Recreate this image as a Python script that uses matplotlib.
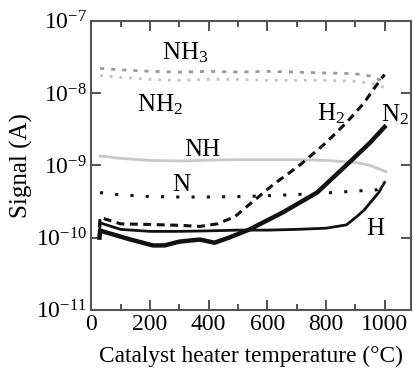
import matplotlib
matplotlib.use("Agg")
import matplotlib.pyplot as plt
from matplotlib.ticker import LogLocator, LogFormatterMathtext, MultipleLocator, NullLocator

plt.rcParams['font.family'] = ['Liberation Serif', 'DejaVu Serif']
plt.rcParams['mathtext.fontset'] = 'custom'
plt.rcParams['mathtext.rm'] = 'Liberation Serif'
plt.rcParams['mathtext.it'] = 'Liberation Serif:italic'

# temperature (deg C) and signal (A)
temp_nh3 = [30, 100, 200, 300, 400, 500, 600, 700, 800, 900, 960, 1000]
sig_nh3 = [2.2e-8, 2.1e-8, 2.0e-8, 1.95e-8, 2.0e-8, 1.95e-8, 2.0e-8, 1.95e-8, 1.9e-8, 1.85e-8, 1.7e-8, 1.4e-8]

temp_nh2 = [30, 100, 200, 300, 400, 500, 600, 700, 800, 900, 960, 1000]
sig_nh2 = [1.75e-8, 1.65e-8, 1.55e-8, 1.5e-8, 1.55e-8, 1.55e-8, 1.5e-8, 1.5e-8, 1.5e-8, 1.45e-8, 1.35e-8, 1.2e-8]

temp_nh = [30, 100, 200, 300, 400, 500, 600, 700, 800, 900, 950, 1005]
sig_nh = [1.35e-9, 1.25e-9, 1.17e-9, 1.15e-9, 1.18e-9, 1.2e-9, 1.2e-9, 1.2e-9, 1.17e-9, 1.1e-9, 1.0e-9, 8.2e-10]

temp_n = [30, 100, 200, 300, 400, 500, 600, 700, 800, 900, 975, 1000]
sig_n = [4.2e-10, 3.9e-10, 3.7e-10, 3.65e-10, 3.65e-10, 3.7e-10, 3.8e-10, 3.95e-10, 4.15e-10, 4.4e-10, 4.6e-10, 5.3e-10]

temp_h2 = [28, 30, 100, 200, 300, 370, 430, 490, 540, 620, 710, 800, 870, 930, 960, 1000]
sig_h2 = [1.4e-10, 1.9e-10, 1.55e-10, 1.52e-10, 1.48e-10, 1.43e-10, 1.55e-10, 1.95e-10, 2.9e-10,
          5.4e-10, 1.0e-9, 2.05e-9, 3.9e-9, 7.3e-9, 1.1e-8, 1.8e-8]

temp_n2 = [28, 30, 130, 210, 250, 300, 370, 420, 470, 540, 650, 770, 880, 950, 1000]
sig_n2 = [1.0e-10, 1.25e-10, 9.5e-11, 7.8e-11, 7.8e-11, 8.8e-11, 9.4e-11, 8.5e-11, 1.0e-10, 1.3e-10,
          2.2e-10, 4.2e-10, 1.1e-9, 2.05e-9, 3.4e-9]

temp_h = [28, 30, 100, 200, 300, 400, 500, 600, 700, 800, 870, 905, 930, 950, 980, 1000]
sig_h = [1.1e-10, 1.6e-10, 1.3e-10, 1.22e-10, 1.22e-10, 1.24e-10, 1.27e-10, 1.27e-10, 1.3e-10, 1.35e-10,
         1.5e-10, 1.95e-10, 2.4e-10, 3.0e-10, 4.2e-10, 5.8e-10]

# label text and where it sits (temp, signal)
labels = ['NH$_3$', 'NH$_2$', 'NH', 'N', 'H$_2$', 'N$_2$', 'H']
label_x = [322, 234, 378, 307, 818, 1036, 968]
label_y = [3.6e-8, 6.9e-9, 1.62e-9, 5.3e-10, 5.15e-9, 5.0e-9, 1.3e-10]

fig = plt.figure(figsize=(4.13, 3.72), dpi=100)
ax = fig.add_axes([0.221, 0.167, 0.774, 0.777])

ax.plot(temp_nh3, sig_nh3, color='#9a9a9a', lw=2.0, ls=(0, (1.5, 2.5)))
ax.plot(temp_nh2, sig_nh2, color='#c2c2c2', lw=2.0, ls=(0, (1, 2.5)))
ax.plot(temp_nh, sig_nh, color='#c8c8c8', lw=2.0)
ax.plot(temp_n, sig_n, color='#111111', lw=2.2, ls=(0, (1, 4)))
ax.plot(temp_h2, sig_h2, color='#111111', lw=2.2, ls=(0, (2.6, 1.8)))
ax.plot(temp_h, sig_h, color='#111111', lw=2.0)
ax.plot(temp_n2, sig_n2, color='#111111', lw=3.2)

for txt, lx, ly in zip(labels, label_x, label_y):
    ax.text(lx, ly, txt, fontsize=18, ha='center', va='center', clip_on=False)

ax.set_yscale('log')
ax.set_xlim(0, 1090)
ax.set_ylim(1e-11, 1e-7)
ax.xaxis.set_major_locator(MultipleLocator(200))
ax.xaxis.set_minor_locator(MultipleLocator(100))
ax.yaxis.set_major_locator(LogLocator(base=10, numticks=10))
ax.yaxis.set_major_formatter(LogFormatterMathtext())
ax.yaxis.set_minor_locator(NullLocator())

ax.tick_params(which='both', direction='in', top=True, right=True, color='#444444', width=1.3)
ax.tick_params(which='major', length=7, labelsize=17, pad=3)
ax.tick_params(which='minor', length=4)
for sp in ax.spines.values():
    sp.set_color('#555555')
    sp.set_linewidth(1.5)

ax.set_xlabel('Catalyst heater temperature (°C)', fontsize=16.8, labelpad=8)
ax.set_ylabel('Signal (A)', fontsize=18, labelpad=2)

fig.savefig('out.png', dpi=100)
